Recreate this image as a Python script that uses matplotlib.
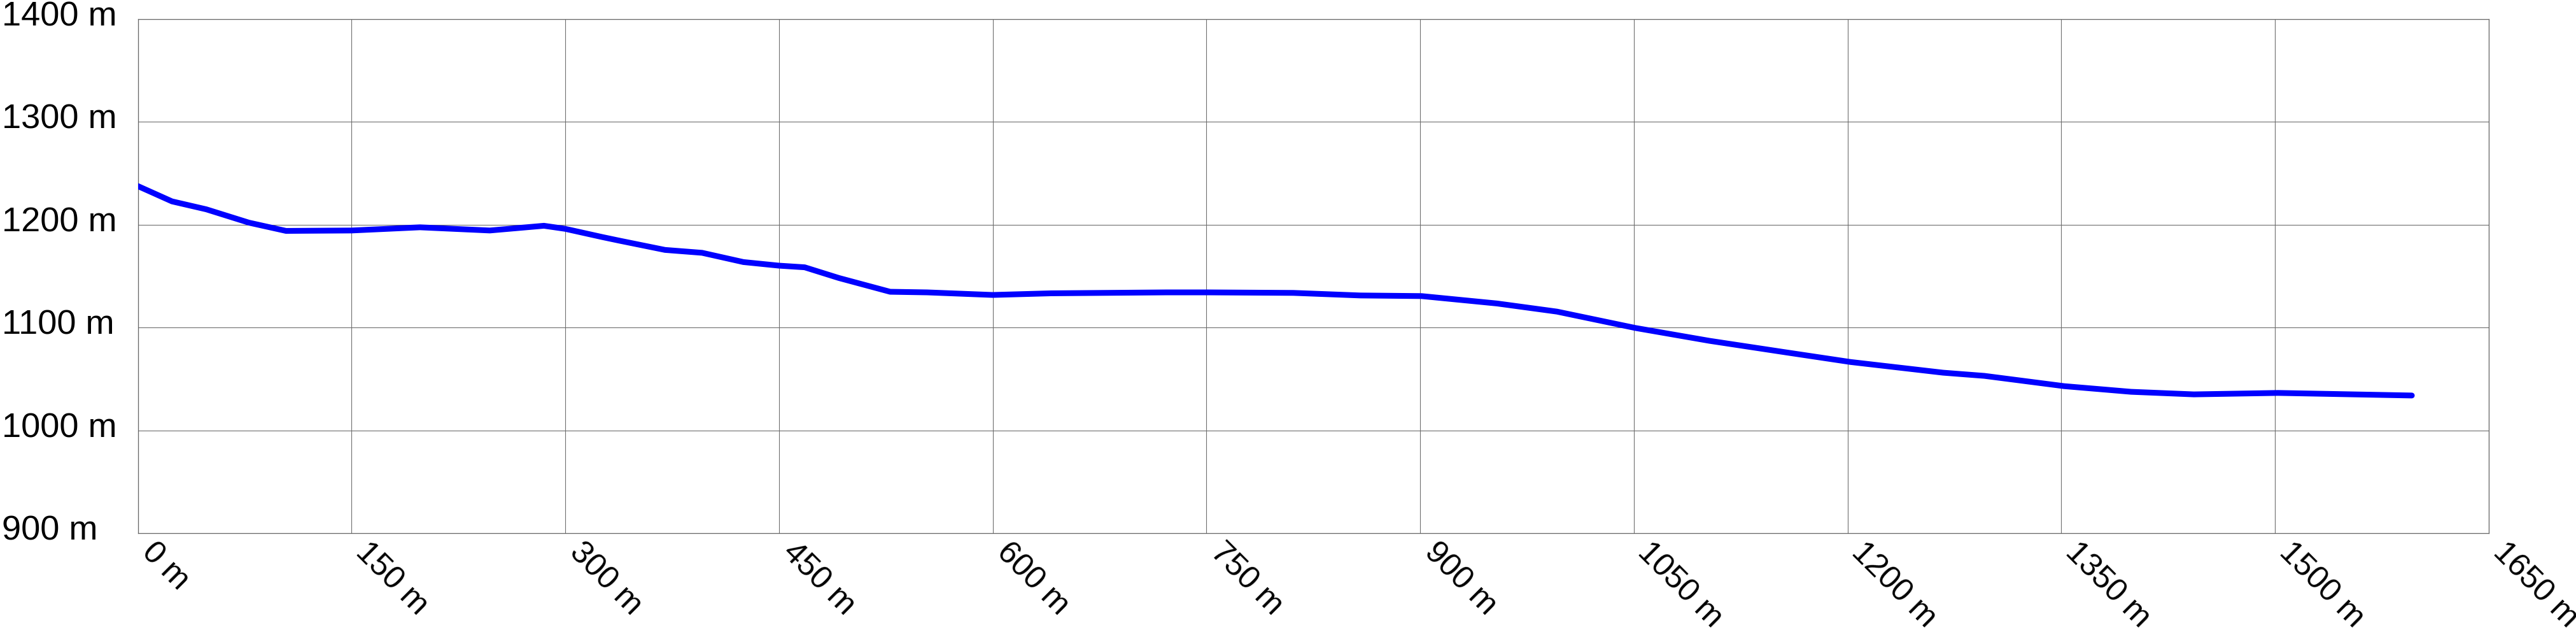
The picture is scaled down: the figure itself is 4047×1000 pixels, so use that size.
import matplotlib
matplotlib.use("Agg")
import matplotlib.pyplot as plt
import matplotlib.transforms as mtransforms

# elevation profile (distance in m, elevation in m)
distance = [0, 24, 48, 78, 104, 150, 198, 247, 285, 300, 326, 338, 370, 396,
            425, 450, 468, 492, 528, 554, 600, 641, 722, 751, 811, 858, 901,
            954, 996, 1051, 1103, 1157, 1202, 1267, 1296, 1352, 1399, 1443,
            1502, 1540, 1596]
elevation = [1237.6, 1222.7, 1215, 1202, 1194, 1194.4, 1197.5, 1194.4, 1199,
             1196, 1188, 1184.5, 1175.5, 1172.7, 1163.7, 1160.2, 1158.6,
             1148.2, 1134.8, 1134.2, 1131.7, 1133.3, 1134.2, 1134.2, 1133.7,
             1131.2, 1130.6, 1123.4, 1115.5, 1099.6, 1087.1, 1075.8, 1066.5,
             1056.1, 1053, 1043, 1037.5, 1035, 1036.4, 1035.4, 1033.9]

x_ticks = list(range(0, 1651, 150))
y_ticks = list(range(900, 1401, 100))

plt.rcParams["font.family"] = ["Liberation Sans", "DejaVu Sans"]

fig = plt.figure(figsize=(40.48, 10), dpi=100)
ax = fig.add_axes([0.0535, 0.163, 0.9124, 0.807])

ax.plot(distance, elevation, color="#0000ff", linewidth=6.5,
        solid_capstyle="round", solid_joinstyle="round", zorder=3)

ax.set_xlim(0, 1650)
ax.set_ylim(900, 1400)
ax.set_xticks(x_ticks)
ax.set_yticks(y_ticks)
ax.set_xticklabels([f"{v} m" for v in x_ticks])
ax.set_yticklabels([f"{v} m" for v in y_ticks])

ax.grid(True, color="#6e6e6e", linewidth=0.8)
ax.set_axisbelow(True)
for side, spine in ax.spines.items():
    spine.set_color("#666666")
    spine.set_linewidth(0.9)

# y labels sit flush with the left edge of the figure, a little above the grid line
ax.tick_params(axis="y", length=0, pad=154, labelsize=39)
shift_up = mtransforms.ScaledTranslation(0, 9 / 100, fig.dpi_scale_trans)
for lab in ax.get_yticklabels():
    lab.set_horizontalalignment("left")
    lab.set_transform(lab.get_transform() + shift_up)

# x labels hang diagonally from each tick
ax.tick_params(axis="x", length=0, pad=5, labelsize=36)
shift_right = mtransforms.ScaledTranslation(30 / 100, 0, fig.dpi_scale_trans)
for lab in ax.get_xticklabels():
    lab.set_rotation(-45)
    lab.set_horizontalalignment("left")
    lab.set_verticalalignment("top")
    lab.set_rotation_mode("anchor")
    lab.set_transform(lab.get_transform() + shift_right)

fig.savefig("out.png", dpi=100, facecolor="white")
